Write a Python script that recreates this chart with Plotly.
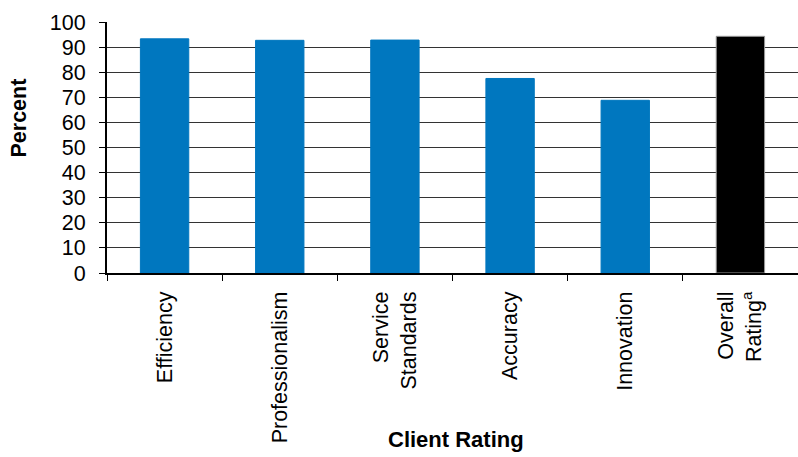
import plotly.graph_objects as go

categories = ["Efficiency", "Professionalism", "Service<br>Standards", "Accuracy",
              "Innovation", "Overall<br>Rating<sup>a</sup>"]
values = [93.3, 92.7, 92.8, 77.5, 68.8, 94.3]
colors = ["#0077BF", "#0077BF", "#0077BF", "#0077BF", "#0077BF", "#000000"]
line_colors = ["#0077BF", "#0077BF", "#0077BF", "#0077BF", "#0077BF", "#9a9a9a"]

fig = go.Figure()
fig.add_trace(go.Bar(
    x=categories, y=values,
    marker=dict(color=colors, line=dict(color=line_colors, width=1)),
    width=0.42,
))

font = "Liberation Sans, Arial, sans-serif"
W, H = 798, 457
L, R, T, B = 107, 0, 22, 184
pw, ph = W - L - R, H - T - B

fig.update_layout(
    width=W, height=H,
    margin=dict(l=L, r=R, t=T, b=B),
    paper_bgcolor="white", plot_bgcolor="white",
    showlegend=False,
    font=dict(family=font, size=21, color="black"),
    xaxis=dict(
        tickangle=-90, tickson="boundaries", ticks="outside", ticklen=6,
        tickcolor="black", showline=True, linecolor="black", linewidth=2,
        showgrid=False, ticklabelstandoff=8,
        tickfont=dict(family=font, size=21.5, color="black"),
    ),
    yaxis=dict(
        range=[0, 100], dtick=10, ticks="outside", ticklen=6, tickcolor="black",
        showline=True, linecolor="black", linewidth=2,
        showgrid=True, gridcolor="#333333", gridwidth=1,
        ticklabelstandoff=9,
        tickfont=dict(family=font, size=21.5, color="black"),
        zeroline=False,
    ),
    annotations=[
        dict(text="<b>Percent</b>", textangle=-90, showarrow=False,
             xref="paper", yref="paper",
             x=(18 - L) / pw, y=(T + ph - 118.5) / ph,
             xanchor="center", yanchor="middle",
             font=dict(family=font, size=21.5, color="black")),
        dict(text="<b>Client Rating</b>", showarrow=False,
             xref="paper", yref="paper",
             x=(456 - L) / pw, y=(T + ph - 440) / ph,
             xanchor="center", yanchor="middle",
             font=dict(family=font, size=22, color="black")),
    ],
)

fig.write_html("out.html")
